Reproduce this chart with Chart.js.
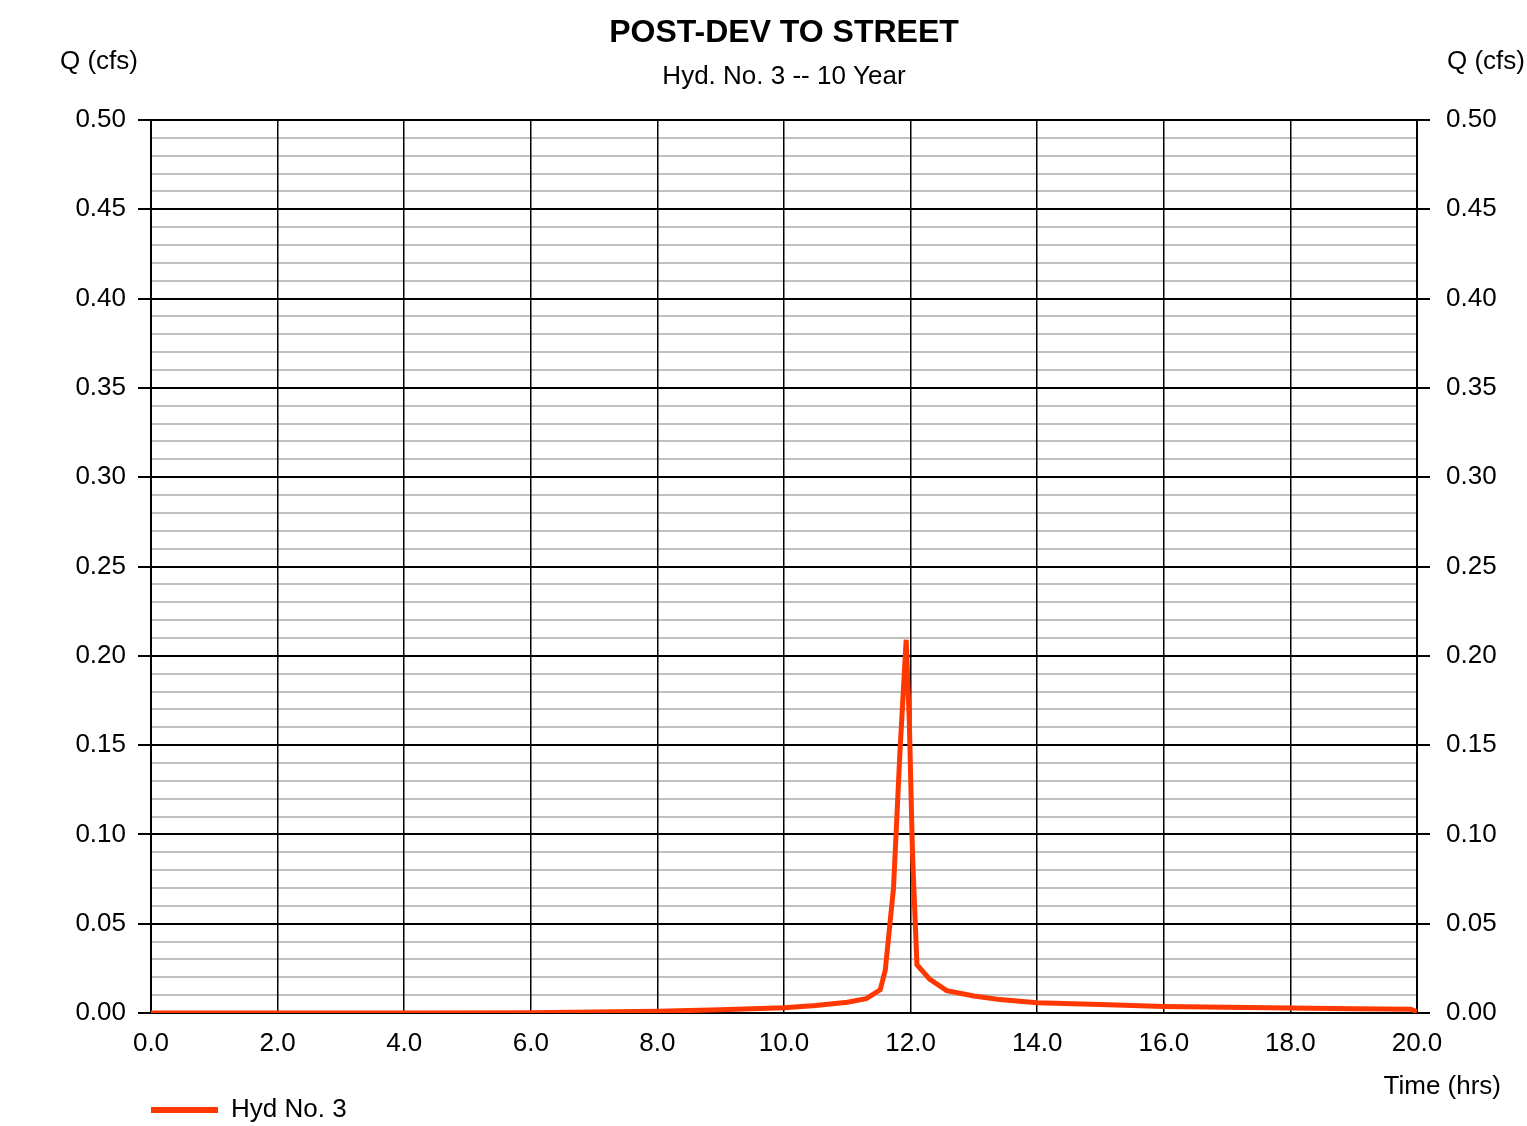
<!DOCTYPE html>
<html>
<head>
<meta charset="utf-8">
<script src="https://cdn.jsdelivr.net/npm/chart.js@4/dist/chart.umd.min.js"></script>
<style>
  html, body { margin: 0; padding: 0; background: #fff; }
  #wrap { width: 1527px; height: 1126px; position: relative; }
</style>
</head>
<body>
<div id="wrap"><canvas id="c"></canvas></div>
<script>
// ---- Data ----
const chartTitle = "POST-DEV TO STREET";
const chartSubtitle = "Hyd. No. 3 -- 10 Year";
const yAxisTitle = "Q (cfs)";
const xAxisTitle = "Time (hrs)";
const seriesName = "Hyd No. 3";

const timeHrs = [0, 2, 4, 6, 7, 8, 9, 10, 10.5, 11, 11.3, 11.52, 11.6, 11.73, 11.83, 11.93, 11.98, 12.03, 12.1, 12.3, 12.57, 13.0, 13.41, 14, 15, 16, 17, 18, 19, 19.9, 20];
const flowCfs = [0, 0, 0, 0.0002, 0.0006, 0.001, 0.0018, 0.003, 0.0042, 0.006, 0.008, 0.013, 0.024, 0.07, 0.145, 0.209, 0.163, 0.089, 0.027, 0.019, 0.0125, 0.0095, 0.0075, 0.0058, 0.0047, 0.0037, 0.0032, 0.0028, 0.0024, 0.0021, 0.0008];

const xMin = 0, xMax = 20, xStep = 2;
const yMin = 0, yMax = 0.5, yStep = 0.01, yMajorEvery = 5;

const FONT = '"Liberation Sans", Arial, sans-serif';
const lineColor = 'rgb(255,55,0)';

function isMajor(v) { return Math.round(v / yStep) % yMajorEvery === 0; }

const textPlugin = {
  id: 'texts',
  afterDraw(chart) {
    const ctx = chart.ctx, a = chart.chartArea;
    const cx = (a.left + a.right) / 2;
    ctx.save();
    ctx.fillStyle = '#000';
    ctx.textBaseline = 'middle';
    ctx.textAlign = 'center';
    ctx.font = 'bold 32px ' + FONT;
    ctx.fillText(chartTitle, cx, 33);
    ctx.font = '26px ' + FONT;
    ctx.fillText(chartSubtitle, cx, 77);
    ctx.textAlign = 'right';
    ctx.fillText(yAxisTitle, a.left - 13, 62);
    ctx.textAlign = 'left';
    ctx.fillText(yAxisTitle, a.right + 30, 62);
    ctx.textAlign = 'right';
    ctx.fillText(xAxisTitle, a.right + 84, 1087);
    ctx.restore();
  }
};

const yGrid = {
  color: (c) => isMajor(c.tick.value) ? '#000' : '#c0c0c0',
  lineWidth: 2,
  tickColor: (c) => isMajor(c.tick.value) ? '#000' : 'rgba(0,0,0,0)',
  tickLength: 13,
  tickWidth: 2,
  z: -1
};

new Chart(document.getElementById('c'), {
  type: 'line',
  data: {
    datasets: [{
      label: seriesName,
      data: timeHrs.map((t, i) => ({ x: t, y: flowCfs[i] })),
      borderColor: lineColor,
      backgroundColor: lineColor,
      borderWidth: 5,
      pointRadius: 0,
      tension: 0,
      fill: false,
      yAxisID: 'y'
    }]
  },
  options: {
    responsive: true,
    maintainAspectRatio: false,
    animation: false,
    devicePixelRatio: 1,
    layout: { padding: { top: 120, left: 0, right: 0, bottom: -7 } },
    plugins: {
      title: { display: false },
      tooltip: { enabled: false },
      legend: {
        display: true,
        position: 'bottom',
        align: 'start',
        fullSize: false,
        labels: {
          boxWidth: 67,
          boxHeight: 6,
          padding: 0,
          color: '#000',
          font: { family: FONT, size: 26 },
          generateLabels: (chart) => chart.data.datasets.map((d, i) => ({
            text: d.label, fillStyle: d.borderColor, strokeStyle: d.borderColor,
            lineWidth: 0, hidden: false, datasetIndex: i
          }))
        }
      }
    },
    scales: {
      x: {
        type: 'linear',
        min: xMin, max: xMax,
        afterFit: (s) => { s.height = 84; },
        ticks: {
          stepSize: xStep,
          autoSkip: false,
          maxRotation: 0,
          padding: 15,
          color: '#000',
          font: { family: FONT, size: 26 },
          callback: (v) => Number(v).toFixed(1)
        },
        grid: { color: '#000', lineWidth: 1.5, drawTicks: false, z: 0 },
        border: { color: '#000', width: 2 }
      },
      y: {
        type: 'linear',
        position: 'left',
        min: yMin, max: yMax,
        afterFit: (s) => { s.width = 151; },
        ticks: {
          stepSize: yStep,
          autoSkip: false,
          padding: 12,
          color: '#000',
          font: { family: FONT, size: 26 },
          callback: (v) => isMajor(v) ? Number(v).toFixed(2) : ''
        },
        grid: yGrid,
        border: { color: '#000', width: 2 }
      },
      y2: {
        type: 'linear',
        position: 'right',
        min: yMin, max: yMax,
        afterFit: (s) => { s.width = 110; },
        ticks: {
          stepSize: yStep,
          autoSkip: false,
          padding: 16,
          color: '#000',
          font: { family: FONT, size: 26 },
          callback: (v) => isMajor(v) ? Number(v).toFixed(2) : ''
        },
        grid: Object.assign({}, yGrid, { drawOnChartArea: false }),
        border: { color: '#000', width: 2 }
      }
    }
  },
  plugins: [textPlugin]
});
</script>
</body>
</html>
